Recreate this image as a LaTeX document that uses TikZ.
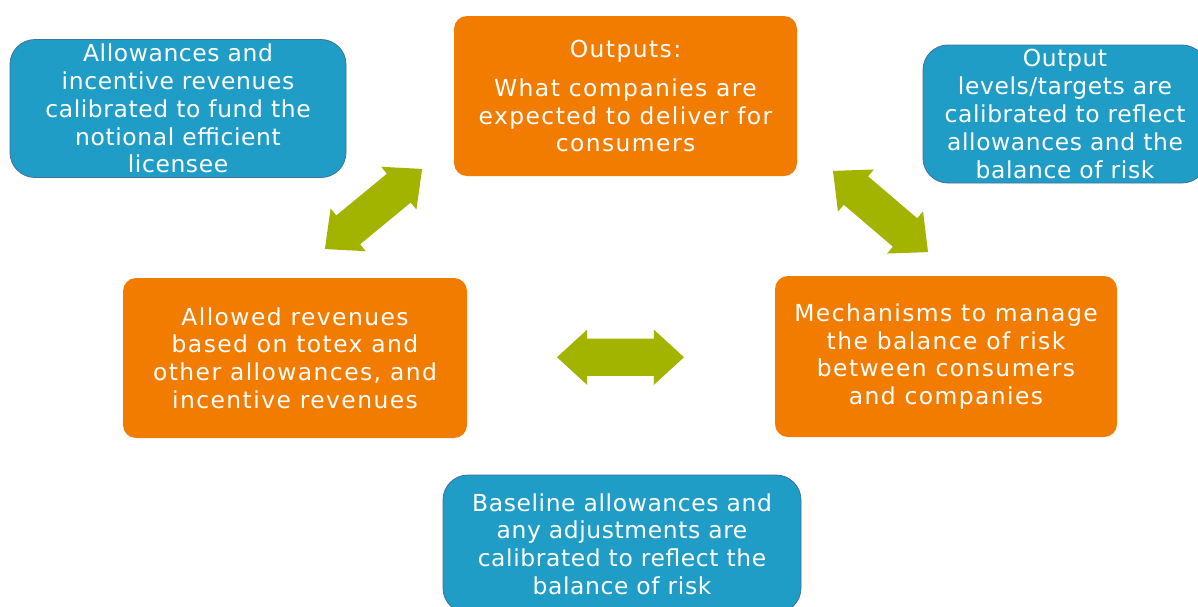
\documentclass[tikz,border=0pt]{standalone}
\usepackage{fontspec}
\setmainfont{DejaVu Sans}[LetterSpace=2.6]
\newfontfamily\bluefont{DejaVu Sans}[LetterSpace=2.6]
\newfontfamily\orangefont{DejaVu Sans}[LetterSpace=6.1]
\usetikzlibrary{shapes.arrows,calc}
\definecolor{boxorange}{RGB}{242,124,0}
\definecolor{boxblue}{RGB}{31,157,198}
\definecolor{boxbluedge}{RGB}{65,113,156}
\definecolor{arrowgreen}{RGB}{162,179,0}
\tikzset{
  basetext/.style={text=white, align=center, inner sep=0pt},
  orangebox/.style={basetext, font=\orangefont\fontsize{23.4}{27.6}\selectfont,
    fill=boxorange, rounded corners=13pt},
  bluebox/.style={basetext, font=\bluefont\fontsize{23.4}{27.8}\selectfont,
    fill=boxblue, draw=boxbluedge, line width=0.8pt, rounded corners=25pt},
  dblarrow/.style={double arrow, fill=arrowgreen, draw=none, inner xsep=0pt, inner ysep=18.5pt,
    minimum width=55pt, double arrow head extend=9pt, double arrow tip angle=85}
}
\begin{document}
\begin{tikzpicture}[x=1pt,y=-1pt]
\useasboundingbox (0,0) rectangle (1198,606);
\clip (0,0) rectangle (1198,606);
\node[bluebox, minimum width=336pt, minimum height=138pt] (allow) at (178,108.5)
  {Allowances and\\incentive revenues\\calibrated to fund the\\notional efficient\\licensee};
\node[orangebox, minimum width=343pt, minimum height=160pt] (outputs) at (625.5,96)
  {Outputs:\\[11.4pt]What companies are\\expected to deliver for\\consumers};
\node[bluebox, minimum width=284pt, minimum height=138pt] (targets) at (1065,114)
  {Output\\levels/targets are\\calibrated to reflect\\allowances and the\\balance of risk};
\node[orangebox, minimum width=344pt, minimum height=160pt] (revenues) at (295,358)
  {Allowed revenues\\based on totex and\\other allowances, and\\incentive revenues};
\node[orangebox, minimum width=342pt, minimum height=161pt] (mechanisms) at (946,356.5)
  {Mechanisms to manage\\the balance of risk\\between consumers\\and companies};
\node[bluebox, minimum width=358pt, minimum height=138pt] (baseline) at (622,544)
  {Baseline allowances and\\any adjustments are\\calibrated to reflect the\\balance of risk};
\node[dblarrow, minimum height=126pt, rotate=39.5] (arrL) at (373.5,209) {};
\node[dblarrow, minimum height=125pt, rotate=-40.5] (arrR) at (880.5,211.5) {};
\node[dblarrow, minimum height=127pt] (arrC) at ($(revenues)!0.5!(mechanisms)$) {};
\end{tikzpicture}
\end{document}
